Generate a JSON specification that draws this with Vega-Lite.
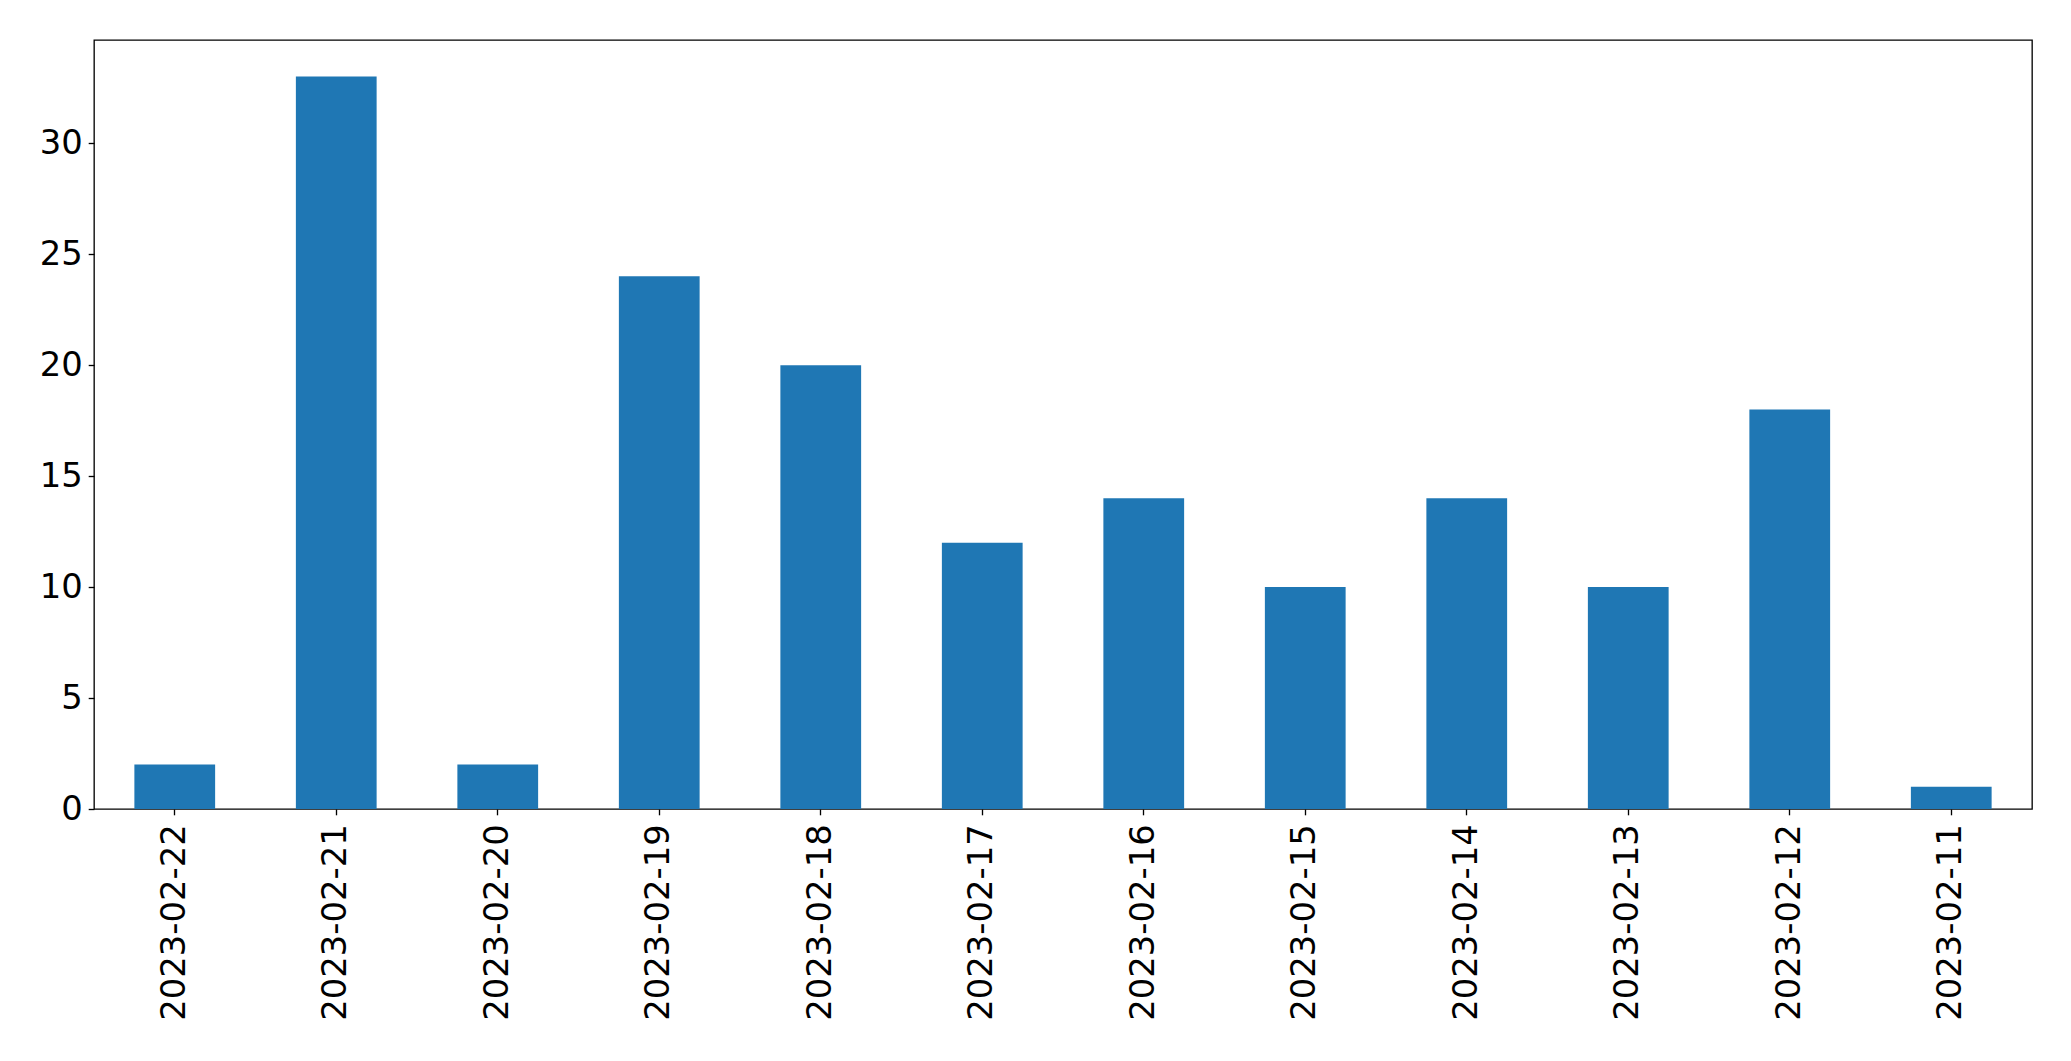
{
  "$schema": "https://vega.github.io/schema/vega-lite/v6.json",
  "width": 1938,
  "height": 769,
  "autosize": {"type": "none"},
  "padding": {"left": 94, "top": 40, "right": 39, "bottom": 252},
  "background": "white",
  "config": {
    "view": {"stroke": "#000000", "strokeWidth": 1.33},
    "font": "DejaVu Sans",
    "axis": {
      "grid": false,
      "domain": false,
      "tickColor": "black",
      "tickWidth": 1.33,
      "tickSize": 5.8,
      "labelColor": "black",
      "labelFont": "DejaVu Sans",
      "labelFontSize": 33.8,
      "labelLimit": 0,
      "title": null
    }
  },
  "data": {
    "values": [
      {"date": "2023-02-22", "count": 2},
      {"date": "2023-02-21", "count": 33},
      {"date": "2023-02-20", "count": 2},
      {"date": "2023-02-19", "count": 24},
      {"date": "2023-02-18", "count": 20},
      {"date": "2023-02-17", "count": 12},
      {"date": "2023-02-16", "count": 14},
      {"date": "2023-02-15", "count": 10},
      {"date": "2023-02-14", "count": 14},
      {"date": "2023-02-13", "count": 10},
      {"date": "2023-02-12", "count": 18},
      {"date": "2023-02-11", "count": 1}
    ]
  },
  "mark": {"type": "bar", "color": "#1f77b4"},
  "encoding": {
    "x": {
      "field": "date",
      "type": "nominal",
      "sort": null,
      "scale": {"paddingInner": 0.5, "paddingOuter": 0.25},
      "axis": {"labelAngle": -90, "labelPadding": 9}
    },
    "y": {
      "field": "count",
      "type": "quantitative",
      "scale": {"domain": [0, 34.65], "nice": false, "zero": true},
      "axis": {"values": [0, 5, 10, 15, 20, 25, 30], "labelPadding": 6}
    }
  }
}
